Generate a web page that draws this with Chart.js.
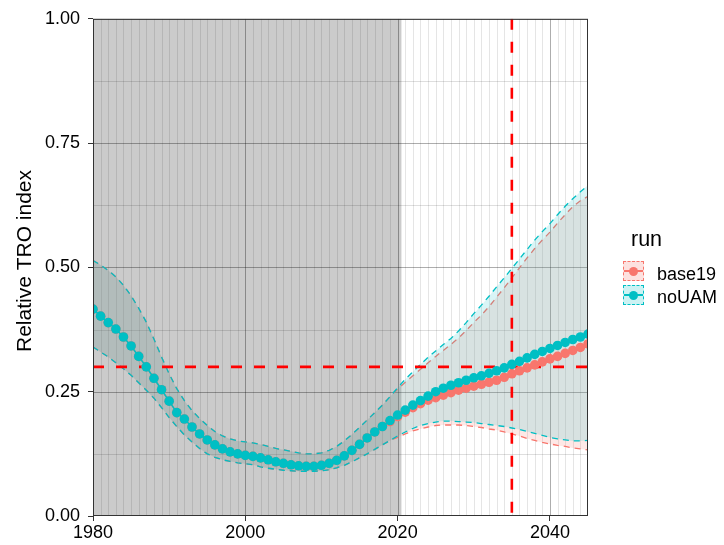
<!DOCTYPE html>
<html><head><meta charset="utf-8">
<script src="https://cdn.jsdelivr.net/npm/chart.js@4/dist/chart.umd.min.js"></script>
<style>
html,body{margin:0;padding:0;background:#fff;}
#wrap{position:relative;width:724px;height:545px;overflow:hidden;}
#c{position:absolute;left:0;top:0;}
.lt{position:absolute;font-family:"Liberation Sans",Arial,sans-serif;color:#000;white-space:nowrap;}
.key{position:absolute;left:623px;width:21px;height:20px;box-sizing:border-box;border:1.3px dashed;}
.key .ln{position:absolute;left:0;right:0;top:50%;height:1.6px;margin-top:-0.8px;}
.key .dt{position:absolute;left:50%;top:50%;width:9px;height:9px;margin:-4.5px 0 0 -4.5px;border-radius:50%;}
</style></head><body>
<div id="wrap">
<canvas id="c" width="724" height="545"></canvas>
<div class="lt" style="left:631px;top:229px;font-size:21.5px;line-height:21.5px;">run</div>
<div class="key" id="k0" style="top:261px;"><div class="ln"></div><div class="dt"></div></div>
<div class="key" id="k1" style="top:285px;"><div class="ln"></div><div class="dt"></div></div>
<div class="lt" id="l0" style="left:657px;top:265px;font-size:18px;line-height:18px;"></div>
<div class="lt" id="l1" style="left:657px;top:288px;font-size:18px;line-height:18px;"></div>
</div>
<script>
const years = [1980,1981,1982,1983,1984,1985,1986,1987,1988,1989,1990,1991,1992,1993,1994,1995,1996,1997,1998,1999,
2000,2001,2002,2003,2004,2005,2006,2007,2008,2009,2010,2011,2012,2013,2014,2015,2016,2017,2018,2019,
2020,2021,2022,2023,2024,2025,2026,2027,2028,2029,2030,2031,2032,2033,2034,2035,2036,2037,2038,2039,
2040,2041,2042,2043,2044,2045];

const seriesNames = ['base19','noUAM'];
const yTitle = 'Relative TRO index';

const noUAM_mean = [0.416,0.402,0.389,0.376,0.360,0.342,0.321,0.300,0.277,0.254,0.231,0.208,0.195,0.179,0.165,0.153,0.143,0.135,0.129,0.125,
0.122,0.120,0.117,0.113,0.109,0.106,0.103,0.101,0.100,0.100,0.102,0.106,0.112,0.121,0.132,0.144,0.157,0.169,0.180,0.192,
0.203,0.213,0.223,0.232,0.241,0.250,0.257,0.263,0.268,0.273,0.278,0.282,0.287,0.292,0.298,0.305,0.311,0.318,0.325,0.331,
0.337,0.343,0.349,0.355,0.360,0.366];

const base19_mean = [0.416,0.402,0.389,0.376,0.360,0.342,0.321,0.300,0.277,0.254,0.231,0.208,0.195,0.179,0.165,0.153,0.143,0.135,0.129,0.125,
0.122,0.120,0.117,0.113,0.109,0.106,0.103,0.101,0.100,0.100,0.102,0.106,0.112,0.121,0.132,0.144,0.157,0.169,0.180,0.190,
0.200,0.209,0.218,0.226,0.233,0.238,0.243,0.248,0.253,0.257,0.261,0.265,0.269,0.273,0.279,0.286,0.292,0.298,0.304,0.310,
0.316,0.321,0.327,0.333,0.339,0.346];

const noUAM_upper = [0.514,0.505,0.494,0.481,0.464,0.443,0.418,0.390,0.356,0.320,0.286,0.256,0.232,0.212,0.196,0.182,0.170,0.161,0.155,0.151,
0.149,0.147,0.144,0.140,0.136,0.133,0.130,0.127,0.125,0.125,0.127,0.132,0.140,0.151,0.164,0.178,0.193,0.208,0.223,0.240,
0.258,0.275,0.290,0.305,0.319,0.332,0.345,0.357,0.372,0.389,0.407,0.424,0.442,0.461,0.479,0.498,0.517,0.536,0.555,0.572,
0.588,0.606,0.623,0.638,0.652,0.665];

const base19_upper = [0.514,0.505,0.494,0.481,0.464,0.443,0.418,0.390,0.356,0.320,0.286,0.256,0.232,0.212,0.196,0.182,0.170,0.161,0.155,0.151,
0.149,0.147,0.144,0.140,0.136,0.133,0.130,0.127,0.125,0.125,0.127,0.132,0.140,0.151,0.164,0.178,0.193,0.208,0.223,0.240,
0.255,0.269,0.282,0.295,0.308,0.321,0.333,0.345,0.358,0.373,0.389,0.404,0.421,0.440,0.459,0.479,0.499,0.519,0.538,0.555,
0.571,0.589,0.606,0.622,0.634,0.643];

const noUAM_lower = [0.340,0.330,0.320,0.308,0.296,0.283,0.268,0.253,0.237,0.218,0.198,0.180,0.163,0.149,0.136,0.125,0.118,0.113,0.110,0.107,
0.105,0.103,0.099,0.096,0.094,0.092,0.091,0.090,0.090,0.090,0.091,0.093,0.097,0.102,0.109,0.117,0.125,0.134,0.143,0.152,
0.161,0.169,0.176,0.182,0.186,0.189,0.191,0.191,0.190,0.189,0.188,0.186,0.184,0.182,0.180,0.177,0.174,0.170,0.166,0.162,
0.158,0.155,0.153,0.151,0.151,0.152];

const base19_lower = [0.340,0.330,0.320,0.308,0.296,0.283,0.268,0.253,0.237,0.218,0.198,0.180,0.163,0.149,0.136,0.125,0.118,0.113,0.110,0.107,
0.105,0.103,0.099,0.096,0.094,0.092,0.091,0.090,0.090,0.090,0.091,0.093,0.097,0.102,0.109,0.117,0.125,0.134,0.143,0.152,
0.158,0.165,0.171,0.175,0.179,0.182,0.183,0.183,0.183,0.182,0.180,0.178,0.175,0.173,0.169,0.165,0.161,0.156,0.152,0.148,
0.145,0.142,0.140,0.137,0.135,0.133];

const xTicks = [1980,2000,2020,2040];
const yTicks = [0,0.25,0.5,0.75,1];
const yMinor = [0.125,0.375,0.625,0.875];
const historyEnd = 2020.5;
const refY = 0.30;
const refX = 2035;

const RED = '#F8766D', CYAN = '#00BFC4';
const RED_FILL = 'rgba(248,118,109,0.17)', CYAN_FILL = 'rgba(0,191,196,0.15)';
const FONT = '"Liberation Sans", Arial, sans-serif';
const pts = arr => years.map((y,i)=>({x:y,y:arr[i]}));

// legend
document.getElementById('l0').textContent = seriesNames[0];
document.getElementById('l1').textContent = seriesNames[1];
[[ 'k0', RED, 'rgba(248,118,109,0.22)'],['k1', CYAN, 'rgba(0,191,196,0.2)']].forEach(([id,c,f])=>{
  const k=document.getElementById(id); k.style.borderColor=c; k.style.background=f;
  k.querySelector('.ln').style.background=c; k.querySelector('.dt').style.background=c;
});

const bandStyle = (c) => ({borderColor:c, borderWidth:1.3, borderDash:[6,5], pointRadius:0, tension:0, clip:0});

const bgPlugin = {
  id:'bg',
  beforeDraw(chart){
    const {ctx, chartArea:a, scales:{x,y}} = chart;
    ctx.save();
    ctx.beginPath(); ctx.rect(a.left,a.top,a.right-a.left,a.bottom-a.top); ctx.clip();
    const gx = x.getPixelForValue(historyEnd);
    ctx.fillStyle = '#cbcbcb';
    ctx.fillRect(a.left, a.top, gx-a.left, a.bottom-a.top);
    ctx.lineWidth = 1;
    ctx.strokeStyle = 'rgba(0,0,0,0.1)';
    years.forEach(yr=>{
      if (xTicks.includes(yr)) return;
      const px = Math.round(x.getPixelForValue(yr))+0.5;
      ctx.beginPath(); ctx.moveTo(px,a.top); ctx.lineTo(px,a.bottom); ctx.stroke();
    });
    ctx.strokeStyle = 'rgba(0,0,0,0.13)';
    yMinor.forEach(v=>{
      const py = Math.round(y.getPixelForValue(v))+0.5;
      ctx.beginPath(); ctx.moveTo(a.left,py); ctx.lineTo(a.right,py); ctx.stroke();
    });
    ctx.strokeStyle = 'rgba(0,0,0,0.32)';
    xTicks.forEach(v=>{
      const px = Math.round(x.getPixelForValue(v))+0.5;
      ctx.beginPath(); ctx.moveTo(px,a.top); ctx.lineTo(px,a.bottom); ctx.stroke();
    });
    yTicks.forEach(v=>{
      const py = Math.round(y.getPixelForValue(v))+0.5;
      ctx.beginPath(); ctx.moveTo(a.left,py); ctx.lineTo(a.right,py); ctx.stroke();
    });
    ctx.restore();
  },
  afterDatasetDraw(chart, args){
    if (args.index !== 3) return;
    const {ctx, chartArea:a, scales:{x,y}} = chart;
    ctx.save();
    ctx.beginPath(); ctx.rect(a.left,a.top,a.right-a.left,a.bottom-a.top); ctx.clip();
    ctx.strokeStyle = '#FF0000'; ctx.lineWidth = 2.6; ctx.setLineDash([11,12]);
    const py = y.getPixelForValue(refY);
    ctx.beginPath(); ctx.moveTo(a.left, py); ctx.lineTo(a.right, py); ctx.stroke();
    const px = x.getPixelForValue(refX);
    ctx.beginPath(); ctx.moveTo(px, a.top); ctx.lineTo(px, a.bottom); ctx.stroke();
    ctx.restore();
  },
  afterDraw(chart){
    const {ctx, chartArea:a} = chart;
    ctx.save();
    ctx.strokeStyle = '#333'; ctx.lineWidth = 1;
    ctx.strokeRect(a.left+0.5, a.top+0.5, a.right-a.left-1, a.bottom-a.top-1);
    // y axis title
    ctx.translate(25, 261);
    ctx.rotate(-Math.PI/2);
    ctx.fillStyle = '#000';
    ctx.font = '21px ' + FONT;
    ctx.textAlign = 'center';
    ctx.textBaseline = 'middle';
    ctx.fillText(yTitle, 0, 0);
    ctx.restore();
  }
};

new Chart(document.getElementById('c'), {
  type:'line',
  data:{
    datasets:[
      Object.assign({label:'base19 lower', data:pts(base19_lower), fill:false, order:5}, bandStyle(RED)),
      Object.assign({label:'base19 upper', data:pts(base19_upper), fill:'-1', backgroundColor:RED_FILL, order:4}, bandStyle(RED)),
      Object.assign({label:'noUAM lower', data:pts(noUAM_lower), fill:false, order:3}, bandStyle(CYAN)),
      Object.assign({label:'noUAM upper', data:pts(noUAM_upper), fill:'-1', backgroundColor:CYAN_FILL, order:2}, bandStyle(CYAN)),
      {label:seriesNames[0], data:pts(base19_mean), borderColor:RED, backgroundColor:RED, borderWidth:1.5,
       pointRadius:4.8, pointBorderWidth:0, pointBackgroundColor:RED, fill:false, tension:0, order:1, clip:0},
      {label:seriesNames[1], data:pts(noUAM_mean), borderColor:CYAN, backgroundColor:CYAN, borderWidth:1.5,
       pointRadius:4.8, pointBorderWidth:0, pointBackgroundColor:CYAN, fill:false, tension:0, order:0, clip:0}
    ]
  },
  options:{
    responsive:false, animation:false, devicePixelRatio:1,
    layout:{padding:{left:0, top:18, right:136, bottom:0}},
    plugins:{legend:{display:false}, tooltip:{enabled:false}},
    scales:{
      x:{type:'linear', min:1980, max:2045,
        afterBuildTicks(s){ s.ticks = xTicks.map(v=>({value:v})); },
        afterFit(s){ s.height = 29; },
        grid:{display:true, drawOnChartArea:false, drawTicks:true, tickLength:5, color:'#333', lineWidth:1},
        border:{display:false},
        ticks:{color:'#000', padding:1, maxRotation:0, autoSkip:false, font:{family:FONT, size:18},
          callback:v=>String(v)}
      },
      y:{type:'linear', min:0, max:1,
        afterBuildTicks(s){ s.ticks = yTicks.map(v=>({value:v})); },
        afterFit(s){ s.width = 93; },
        grid:{display:true, drawOnChartArea:false, drawTicks:true, tickLength:5, color:'#333', lineWidth:1},
        border:{display:false},
        ticks:{color:'#000', padding:8, autoSkip:false, font:{family:FONT, size:18},
          callback:v=>Number(v).toFixed(2)}
      }
    }
  },
  plugins:[bgPlugin]
});
</script>
</body></html>
